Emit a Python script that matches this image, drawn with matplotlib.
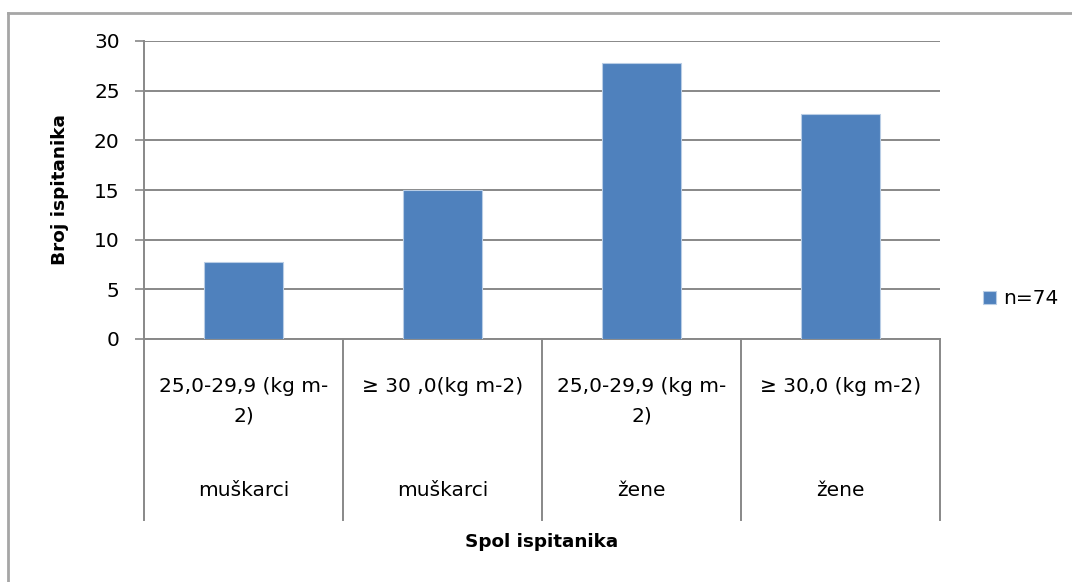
import matplotlib
matplotlib.use("Agg")
import matplotlib.pyplot as plt
from matplotlib.lines import Line2D
from matplotlib.patches import Patch

# ---- data ----
bmi_labels = ["25,0-29,9 (kg m-\n2)", "≥ 30 ,0(kg m-2)", "25,0-29,9 (kg m-\n2)", "≥ 30,0 (kg m-2)"]
sex_labels = ["muškarci", "muškarci", "žene", "žene"]
values = [7.8, 15.0, 27.8, 22.7]
series_name = "n=74"
y_ticks = [0, 5, 10, 15, 20, 25, 30]
y_label = "Broj ispitanika"
x_label = "Spol ispitanika"

W, H = 1072, 582
DPI = 100
plt.rcParams['font.family'] = ['DejaVu Sans']
fig = plt.figure(figsize=(W / DPI, H / DPI), dpi=DPI)
fig.patch.set_facecolor("white")

left, right, top, bottom = 144, 940, 41, 339
ax = fig.add_axes([left / W, 1 - bottom / H, (right - left) / W, (bottom - top) / H])

GRID = "#888888"
BAR = "#4F81BD"
FS = 14.5

x = list(range(len(values)))
bars = ax.bar(x, values, width=0.395, color=BAR, edgecolor="#B9CDE5", linewidth=0.8, zorder=3,
              label=series_name)

ax.set_xlim(-0.5, len(values) - 0.5)
ax.set_ylim(0, 30)
ax.set_yticks(y_ticks)
ax.set_yticklabels([str(t) for t in y_ticks], fontsize=FS, color="black")
ax.yaxis.grid(True, color=GRID, linewidth=1.4, zorder=0)
ax.set_axisbelow(True)
ax.tick_params(axis="y", length=6.5, width=1.2, color=GRID, pad=11)
ax.set_xticks([])

for s in ["top", "right"]:
    ax.spines[s].set_visible(False)
for s in ["left", "bottom"]:
    ax.spines[s].set_color(GRID)
    ax.spines[s].set_linewidth(1.4)

# multi-level category axis
trans = ax.get_xaxis_transform()
sep_bottom = -(520 - bottom) / (bottom - top)
for b in [i - 0.5 for i in range(len(values) + 1)]:
    ax.plot([b, b], [0, sep_bottom], transform=trans, color=GRID, linewidth=1.4, clip_on=False)

px2pt = 72 / DPI
for i, (lab, sx) in enumerate(zip(bmi_labels, sex_labels)):
    lines = lab.split("\n")
    for j, ln in enumerate(lines):
        off = (47 + 30 * j) * px2pt
        ax.annotate(ln, xy=(i, 0), xycoords=trans, xytext=(0, -off), textcoords="offset points",
                    ha="center", va="center", fontsize=FS, color="black", annotation_clip=False)
    ax.annotate(sx, xy=(i, 0), xycoords=trans, xytext=(0, -151 * px2pt), textcoords="offset points",
                ha="center", va="center", fontsize=FS, color="black", annotation_clip=False)

ax.annotate(x_label, xy=(0.5, 0), xycoords="axes fraction", xytext=(0, -203 * px2pt),
            textcoords="offset points", ha="center", va="center", fontsize=13.2,
            fontweight="bold", annotation_clip=False)

fig.text(60 / W, 1 - 190 / H, y_label, rotation=90, ha="center", va="center",
         fontsize=13.3, fontweight="bold")

# legend
fig.legend(handles=[Patch(facecolor=BAR, edgecolor="#B9CDE5", linewidth=0.8, label=series_name)],
           loc="center left", bbox_to_anchor=(983 / W, 1 - 299 / H), frameon=False,
           fontsize=FS, handlelength=0.65, handleheight=0.65, handletextpad=0.35,
           borderpad=0, borderaxespad=0)

# chart area frame (top and left edges visible)
frame = "#A6A6A6"
fig.add_artist(Line2D([8 / W, 8 / W], [0, 1 - 13 / H], transform=fig.transFigure, color=frame, linewidth=2))
fig.add_artist(Line2D([8 / W, 1], [1 - 13 / H, 1 - 13 / H], transform=fig.transFigure, color=frame, linewidth=2))

fig.savefig("out.png", dpi=DPI)
